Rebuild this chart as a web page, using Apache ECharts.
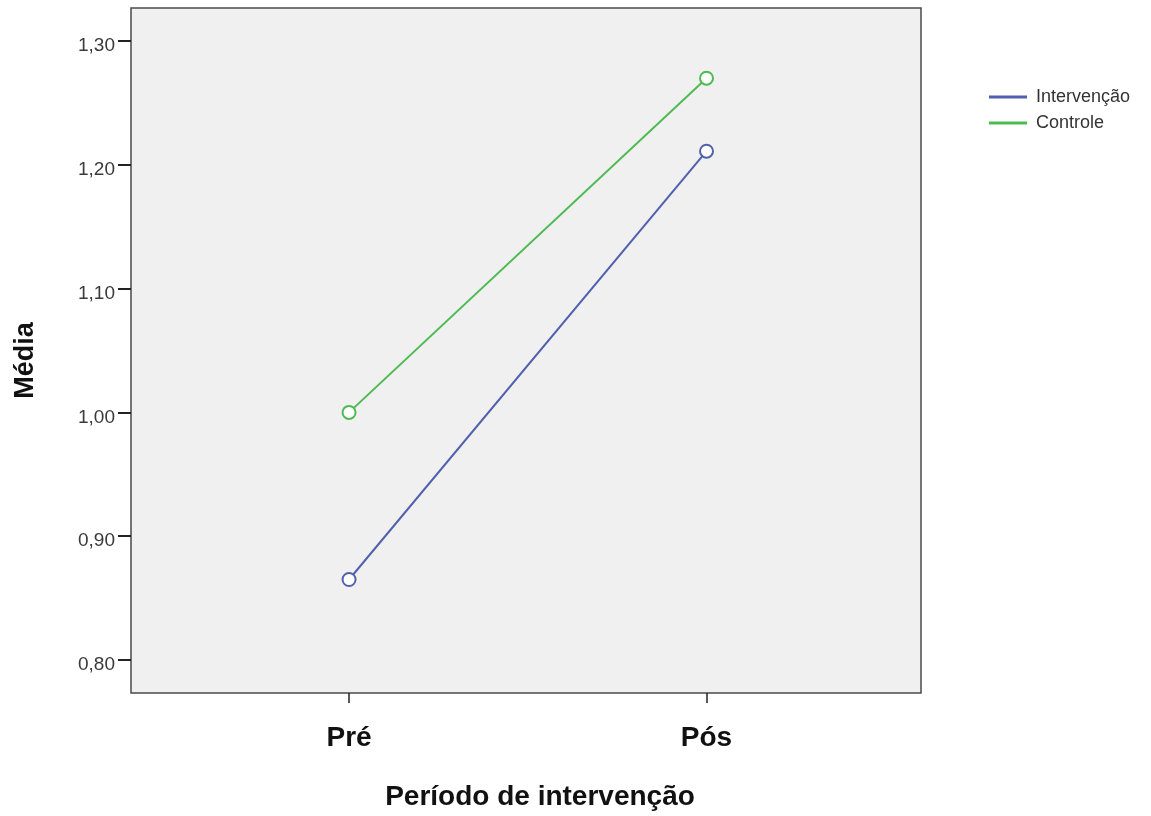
<!DOCTYPE html>
<html>
<head>
<meta charset="utf-8">
<script src="https://cdn.jsdelivr.net/npm/echarts@6/dist/echarts.min.js"></script>
<style>html,body{margin:0;padding:0;background:#fff;}#c{width:1151px;height:816px;}</style>
</head>
<body>
<div id="c"></div>
<script>
const categories = ['Pré', 'Pós'];
const intervencao = [0.865, 1.211];
const controle = [1.000, 1.270];
const yTicks = [0.8, 0.9, 1.0, 1.1, 1.2, 1.3];
const seriesNames = ['Intervenção', 'Controle'];

const xPos = categories.map((c, i) => i + 1);
const toPts = arr => arr.map((v, i) => [xPos[i], v]);
const fmtY = v => v.toFixed(2).replace('.', ',');
const font = '"Liberation Sans", Arial, sans-serif';

const chart = echarts.init(document.getElementById('c'), null, {renderer: 'canvas'});
chart.setOption({
  animation: false,
  backgroundColor: '#ffffff',
  grid: {
    left: 131, top: 8, right: 230, bottom: 123,
    show: true, backgroundColor: '#f0f0f0', borderColor: '#4a4a4a', borderWidth: 1.5,
    containLabel: false
  },
  legend: {
    orient: 'vertical', left: 984, top: 83, itemGap: 8,
    itemWidth: 38, itemHeight: 3, icon: 'rect',
    data: seriesNames,
    textStyle: {fontFamily: font, fontSize: 18, color: '#333', padding: [0, 0, 0, 4]}
  },
  xAxis: {
    type: 'value', min: 0.39, max: 2.6,
    name: 'Período de intervenção', nameLocation: 'middle', nameGap: 90,
    nameTextStyle: {fontFamily: font, fontWeight: 'bold', fontSize: 28, color: '#111', padding: [0, 0, 0, 28]},
    axisLine: {show: false},
    splitLine: {show: false},
    axisTick: {show: true, customValues: xPos, length: 10, lineStyle: {color: '#222', width: 1.5}},
    axisLabel: {
      customValues: xPos, margin: 31,
      formatter: v => categories[Math.round(v) - 1] || '',
      fontFamily: font, fontWeight: 'bold', fontSize: 28, color: '#111'
    }
  },
  yAxis: {
    type: 'value', min: 0.7733, max: 1.3267,
    name: 'Média', nameLocation: 'middle', nameGap: 92, nameRotate: 90,
    nameTextStyle: {fontFamily: font, fontWeight: 'bold', fontSize: 27, color: '#111', padding: [0, 20, 0, 0]},
    axisLine: {show: false},
    splitLine: {show: false},
    axisTick: {show: true, customValues: yTicks, length: 13, lineStyle: {color: '#222', width: 2}},
    axisLabel: {
      customValues: yTicks, margin: 16,
      formatter: v => fmtY(v),
      verticalAlign: 'top', lineHeight: 10,
      fontFamily: font, fontSize: 19, color: '#3a3a3a'
    }
  },
  series: [
    {
      name: seriesNames[0], type: 'line', data: toPts(intervencao),
      symbol: 'emptyCircle', symbolSize: 13,
      itemStyle: {color: '#5261ad', borderWidth: 1.8},
      lineStyle: {color: '#5261ad', width: 2}
    },
    {
      name: seriesNames[1], type: 'line', data: toPts(controle),
      symbol: 'emptyCircle', symbolSize: 13,
      itemStyle: {color: '#4dbb52', borderWidth: 1.8},
      lineStyle: {color: '#4dbb52', width: 2}
    }
  ]
});
</script>
</body>
</html>
